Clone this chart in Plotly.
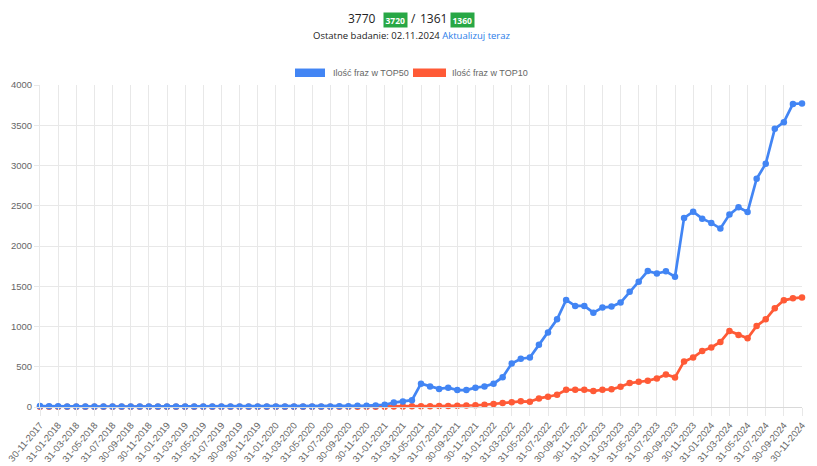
import plotly.graph_objects as go
import pandas as pd

W, H = 817, 466
dates = [d.strftime("%d-%m-%Y") for d in pd.date_range("2017-11-30", periods=85, freq="ME")]

top50 = [12, 10, 8, 7, 6, 6, 5, 5, 5, 5, 5, 5, 5, 5, 5, 5, 5, 5, 5, 5, 5, 5, 5, 5, 5, 5, 5, 5, 5, 5, 5, 6, 6,
         8, 10, 14, 16, 20, 28, 55, 68, 85, 290, 255, 225, 240, 210, 210, 240, 255, 290, 370, 540,
         600, 615, 772, 925, 1090, 1330, 1255, 1255, 1172, 1235, 1247, 1297, 1433, 1557, 1688, 1659,
         1685, 1618, 2349, 2427, 2340, 2287, 2217, 2390, 2481, 2423, 2836, 3022, 3455, 3538, 3765, 3770]
top10 = [2] * 37 + [3, 4, 5, 6, 8, 10, 10, 12, 13, 15, 18, 22, 28, 37, 50, 60,
         70, 66, 107, 128, 152, 214, 214, 214, 198, 214, 219, 251, 297, 313, 326, 355,
         405, 368, 566, 615, 697, 739, 809, 945, 895, 854, 1007, 1090, 1226, 1325, 1350, 1361]

tick_labels = dates[::2]
y_ticks = [0, 500, 1000, 1500, 2000, 2500, 3000, 3500, 4000]

BLUE = "#4285f4"
RED = "#ff5a36"

L, R, T, B = 40, 15, 84.5, 59
pw, ph = W - L - R, H - T - B


def px(x):
    return (x - L) / pw


def py(y):
    return (H - B - y) / ph


fig = go.Figure()
for name, vals, col in [("Ilość fraz w TOP10", top10, RED), ("Ilość fraz w TOP50", top50, BLUE)]:
    fig.add_trace(go.Scatter(x=dates, y=vals, name=name, mode="lines+markers",
                             line=dict(color=col, width=2.7),
                             marker=dict(color=col, size=6.5),
                             cliponaxis=False, showlegend=False))

fig.update_layout(
    width=W, height=H,
    margin=dict(l=L, r=R, t=T, b=B, autoexpand=False),
    paper_bgcolor="white", plot_bgcolor="white",
    font=dict(family="Liberation Sans, Arial", size=9, color="#666"),
    showlegend=False,
)
fig.update_xaxes(type="category", range=[0, 84], tickmode="array", tickvals=tick_labels,
                 ticktext=tick_labels, tickangle=-50, showgrid=True, gridcolor="#e8e8e8",
                 gridwidth=1, ticks="outside", ticklen=8, tickcolor="#e8e8e8",
                 showline=True, linecolor="#d9d9d9", zeroline=False, automargin=False,
                 tickfont=dict(size=9.5, color="#666"))
fig.update_yaxes(range=[0, 4000], tickvals=y_ticks, showgrid=True, gridcolor="#e8e8e8",
                 ticks="outside", ticklen=5, tickcolor="#e8e8e8", zeroline=False,
                 showline=True, linecolor="#e8e8e8", automargin=False,
                 tickfont=dict(size=9.5, color="#666"))

# legend drawn manually
legend = [(295, 325, 331, "Ilość fraz w TOP50", BLUE), (413, 446, 450, "Ilość fraz w TOP10", RED)]
for x0, x1, tx, txt, col in legend:
    fig.add_shape(type="rect", xref="paper", yref="paper", x0=px(x0), x1=px(x1),
                  y0=py(76.5), y1=py(68), fillcolor=col, line=dict(width=0))
    fig.add_annotation(xref="paper", yref="paper", x=px(tx), y=py(72.5), text=txt,
                       showarrow=False, xanchor="left", yanchor="middle",
                       font=dict(size=9, color="#666", family="Liberation Sans, Arial"))

# header
hfont = "Open Sans, Noto Sans"
fig.add_annotation(xref="paper", yref="paper", x=px(378), y=py(18), text="3770", showarrow=False,
                   xanchor="right", yanchor="middle", font=dict(size=12, color="#222", family=hfont))
fig.add_annotation(xref="paper", yref="paper", x=px(395.5), y=py(19), text="<b>3720</b>", showarrow=False,
                   xanchor="center", yanchor="middle", bgcolor="#28a745", borderpad=1.5,
                   font=dict(size=8.5, color="white", family=hfont))
fig.add_annotation(xref="paper", yref="paper", x=px(413), y=py(18), text="/", showarrow=False,
                   xanchor="center", yanchor="middle", font=dict(size=12, color="#222", family=hfont))
fig.add_annotation(xref="paper", yref="paper", x=px(417.5), y=py(18), text="1361", showarrow=False,
                   xanchor="left", yanchor="middle", font=dict(size=12, color="#222", family=hfont))
fig.add_annotation(xref="paper", yref="paper", x=px(462), y=py(19), text="<b>1360</b>", showarrow=False,
                   xanchor="center", yanchor="middle", bgcolor="#28a745", borderpad=1.5,
                   font=dict(size=8.5, color="white", family=hfont))
fig.add_annotation(xref="paper", yref="paper", x=px(412), y=py(35), showarrow=False,
                   text="Ostatne badanie: 02.11.2024 <span style='color:#2b7de9'>Aktualizuj teraz</span>",
                   xanchor="center", yanchor="middle", font=dict(size=9.5, color="#222", family=hfont))

fig.write_html("out.html", config={"displayModeBar": False},
               post_script="document.body.style.margin='0';document.body.style.overflow='hidden';")
